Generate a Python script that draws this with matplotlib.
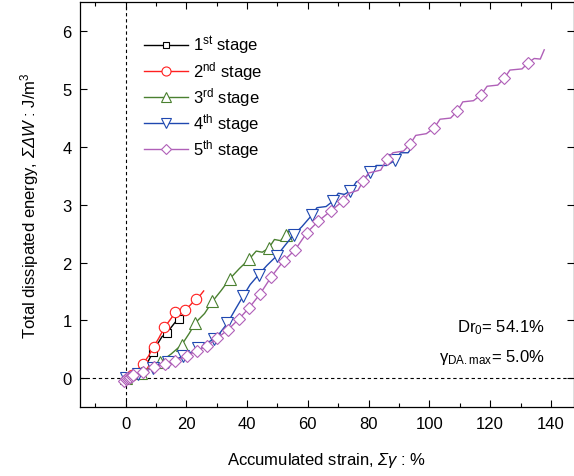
import matplotlib
matplotlib.use("Agg")
import matplotlib.pyplot as plt
from matplotlib.lines import Line2D
from matplotlib.ticker import MultipleLocator

plt.rcParams['font.family'] = ['Liberation Sans', 'DejaVu Sans']
plt.rcParams['mathtext.fontset'] = 'custom'
plt.rcParams['mathtext.rm'] = 'Liberation Sans:italic'
plt.rcParams['mathtext.it'] = 'Liberation Sans:italic'
plt.rcParams['mathtext.sf'] = 'Liberation Sans'
plt.rcParams['mathtext.bf'] = 'Liberation Sans:bold'

# ---- data (accumulated strain %, dissipated energy J/m3) ----
s1_x = [0, 2, 4, 5.5, 7, 8.5, 10, 12, 13.6, 15, 16.5, 17.7, 19, 20.7]
s1_y = [0, 0.03, 0.08, 0.15, 0.25, 0.4, 0.55, 0.72, 0.78, 0.88, 0.98, 1.03, 1.08, 1.15]
s1_mx = [0.5, 4.5, 9, 13.6, 17.7]
s1_my = [0.0, 0.1, 0.45, 0.78, 1.03]

s2_x = [0, 2, 4, 5.7, 7.5, 9.2, 11, 12.8, 14.5, 16.4, 18, 19.4, 21, 23.2, 24.5, 25.7]
s2_y = [0, 0.05, 0.15, 0.25, 0.38, 0.54, 0.7, 0.88, 1.0, 1.14, 1.15, 1.18, 1.25, 1.37, 1.43, 1.51]
s2_mx = [2, 5.7, 9.2, 12.8, 16.4, 19.4, 23.2]
s2_my = [0.05, 0.25, 0.54, 0.88, 1.14, 1.18, 1.37]

s3_x = [0, 5, 8, 11.4, 15, 18.5, 21, 23, 26, 28.6, 31.5, 34.3, 37.5, 40.7, 43, 45, 47.1, 49, 51, 52.9, 53.8]
s3_y = [0, 0.1, 0.18, 0.28, 0.42, 0.58, 0.78, 0.96, 1.12, 1.33, 1.52, 1.72, 1.9, 2.06, 2.2, 2.18, 2.25, 2.4, 2.38, 2.48, 2.55]
s3_mx = [0, 5, 11.4, 18.5, 23, 28.6, 34.3, 40.7, 47.1, 52.9]
s3_my = [0, 0.1, 0.28, 0.58, 0.96, 1.33, 1.72, 2.06, 2.25, 2.48]

s4_x = [0, 4, 9, 14, 19, 24, 29, 31, 33.5, 36, 38.8, 41, 43.8, 46.5, 49.8, 52.5, 55.3, 58, 61.3, 63, 66,
        68.4, 70, 72, 74, 76, 78, 80.5, 82.5, 86, 88.7, 90.5, 93, 94.3]
s4_y = [0, 0.07, 0.18, 0.28, 0.38, 0.52, 0.68, 0.78, 0.95, 1.18, 1.43, 1.62, 1.79, 1.95, 2.12, 2.3, 2.48, 2.62,
        2.82, 2.95, 2.97, 3.07, 3.2, 3.18, 3.24, 3.4, 3.42, 3.56, 3.68, 3.68, 3.77, 3.9, 3.9, 4.0]
s4_mx = [0, 4, 9, 14, 19, 24, 29, 33.5, 38.8, 43.8, 49.8, 55.3, 61.3, 68.4, 74, 80.5, 88.7]
s4_my = [0, 0.07, 0.18, 0.28, 0.38, 0.52, 0.68, 0.95, 1.43, 1.79, 2.12, 2.48, 2.82, 3.07, 3.24, 3.56, 3.77]

s5_x = [-0.5, 0.5, 1.5, 2.6, 5.9, 9.2, 13.1, 16.4, 20.2, 23.5, 26.8, 30.1, 33.7, 37.2, 40.7, 44.3, 47.9, 52,
        55.8, 59.7, 63.5, 67.7, 71.6, 73.5, 76.5, 78.3, 80, 84, 86, 88, 91.5, 93.7, 95.5, 99, 101.6, 103.5,
        107, 109.2, 111, 114.5, 117, 119, 122.5, 124.7, 126.5, 130.5, 132.6, 134.5, 136.5, 137.8]
s5_y = [-0.04, 0.0, 0.03, 0.06, 0.11, 0.19, 0.25, 0.3, 0.39, 0.48, 0.56, 0.69, 0.84, 1.02, 1.22, 1.46, 1.75,
        2.03, 2.22, 2.52, 2.72, 2.9, 3.07, 3.2, 3.25, 3.42, 3.55, 3.6, 3.79, 3.9, 3.93, 4.05, 4.2, 4.23,
        4.33, 4.48, 4.5, 4.62, 4.78, 4.8, 4.9, 5.05, 5.07, 5.19, 5.33, 5.35, 5.46, 5.53, 5.52, 5.68]
s5_mx = [-0.5, 0, 0.5, 1, 1.5, 2, 2.6, 5.9, 9.2, 13.1, 16.4, 20.2, 23.5, 26.8, 30.1, 33.7, 37.2, 40.7, 44.3,
         47.9, 52, 55.8, 59.7, 63.5, 67.7, 71.6, 78.3, 86, 93.7, 101.6, 109.2, 117, 124.7, 132.6]
s5_my = [-0.04, -0.02, 0.0, 0.01, 0.03, 0.04, 0.06, 0.11, 0.19, 0.25, 0.3, 0.39, 0.48, 0.56, 0.69, 0.84,
         1.02, 1.22, 1.46, 1.75, 2.03, 2.22, 2.52, 2.72, 2.9, 3.07, 3.42, 3.79, 4.05, 4.33, 4.62, 4.9, 5.19, 5.46]

labels = ['1$^{\\mathsf{st}}$ stage', '2$^{\\mathsf{nd}}$ stage', '3$^{\\mathsf{rd}}$ stage',
          '4$^{\\mathsf{th}}$ stage', '5$^{\\mathsf{th}}$ stage']
colors = ['#000000', '#ff2020', '#4a8030', '#1f48b0', '#b060b8']
markers = ['s', 'o', '^', 'v', 'D']
msizes = [6, 7.5, 8, 8, 6]

series = [(s1_x, s1_y, s1_mx, s1_my), (s2_x, s2_y, s2_mx, s2_my), (s3_x, s3_y, s3_mx, s3_my),
          (s4_x, s4_y, s4_mx, s4_my), (s5_x, s5_y, s5_mx, s5_my)]

fig = plt.figure(figsize=(5.74, 4.77), dpi=100)
ax = fig.add_axes([80 / 574, (477 - 408.2) / 477, (574 - 80) / 574, 404.8 / 477])

ax.axhline(0, color='black', lw=0.8, ls=(0, (3, 2.5)), zorder=1)
ax.axvline(0, color='black', lw=0.8, ls=(0, (3, 2.5)), zorder=1)

handles = []
for i, (lx, ly, mx, my) in enumerate(series):
    ax.plot(lx, ly, color=colors[i], lw=1.0, zorder=2 + i)
    ax.plot(mx, my, ls='none', marker=markers[i], ms=msizes[i], mfc='white',
            mec=colors[i], mew=0.8, zorder=2 + i)
    handles.append(Line2D([], [], color=colors[i], lw=1.0, marker=markers[i], ms=msizes[i] - 1,
                          mfc='white', mec=colors[i], mew=0.8))

ax.set_xlim(-15, 147.6)
ax.set_ylim(-0.5, 6.5)
ax.xaxis.set_major_locator(MultipleLocator(20))
ax.xaxis.set_minor_locator(MultipleLocator(10))
ax.yaxis.set_major_locator(MultipleLocator(1))
ax.tick_params(which='both', direction='in', top=True, right=True, labelsize=12, width=0.8)
ax.tick_params(which='major', length=5, pad=6)
ax.tick_params(which='minor', length=3)
for sp in ax.spines.values():
    sp.set_linewidth(0.9)

ax.set_xlabel('Accumulated strain, $\\Sigma\\gamma$ : %', fontsize=12, labelpad=14)
ax.set_ylabel('Total dissipated energy, $\\Sigma\\Delta W$ : J/m$^{\\mathsf{3}}$', fontsize=12, labelpad=15)

leg = ax.legend(handles, labels, loc='upper left', bbox_to_anchor=(0.13, 0.923), frameon=False,
                fontsize=12, handlelength=2.6, handletextpad=0.3, labelspacing=0.19,
                borderaxespad=0, borderpad=0)

ax.text(0, 0, 'Dr$_{\\mathsf{0}}$= 54.1%', fontsize=12, ha='right', va='center')
ax.text(0, 0, '$\\mathsf{\\gamma}_{\\mathsf{DA.max}}$= 5.0%', fontsize=12, ha='right', va='center')

# place the annotation texts at their pixel positions
for t, ypx in zip(ax.texts, [328, 358]):
    t.set_transform(fig.transFigure)
    t.set_position((545 / 574, 1 - ypx / 477))

fig.savefig('out.png', dpi=100)
